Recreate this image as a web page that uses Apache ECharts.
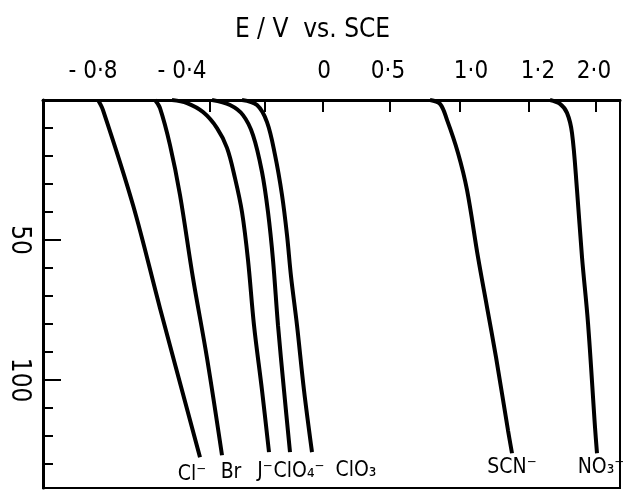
<!DOCTYPE html>
<html>
<head>
<meta charset="utf-8">
<script src="https://cdn.jsdelivr.net/npm/echarts@6/dist/echarts.min.js"></script>
<style>
  html, body { margin: 0; padding: 0; background: #fff; }
  #chart { width: 625px; height: 490px; }
</style>
</head>
<body>
<div id="chart"></div>
<script>
// x: position along the top scale (the printed scale is not linear)
// y: downward axis, 0 at the top edge
const tickPos = [167, 222, 280, 347, 417, 486, 553]
const labelPos = [50, 139, 281, 345, 428, 495, 551]
const tickLabels = ['- 0·8', '- 0·4', '0', '0·5', '1·0', '1·2', '2·0']
const yLabels = [50, 100]

const names = ['Cl⁻', 'Br', 'J⁻', 'ClO₄⁻', 'ClO₃', 'SCN⁻', 'NO₃⁻']

const clX = [55, 60, 90, 117, 157]
const clY = [0, 3.6, 37.5, 74.3, 127.5]
const brX = [112, 117, 127, 137, 150, 164, 179]
const brY = [0, 2.9, 16.1, 33.9, 63.6, 92.1, 126.8]
const jX = [129, 144, 160, 174, 184, 192, 199, 205, 211, 219, 226]
const jY = [0, 1.1, 4.3, 10, 17.1, 27.9, 40, 57.1, 80.4, 103.6, 125.7]
const clo4X = [169, 187, 200, 210, 219, 225, 230, 235, 241, 247]
const clo4Y = [0, 1.8, 5.4, 12.5, 25.7, 40, 57.1, 80.4, 103.6, 125.7]
const clo3X = [199, 214, 224, 232, 239, 244, 248, 254, 261, 269]
const clo3Y = [0, 1.8, 7.9, 19.6, 33.9, 48.2, 62.9, 80.4, 103.6, 125.7]
const scnX = [387, 397, 404, 415, 424, 435, 444, 453, 465, 469]
const scnY = [0, 1.4, 7.1, 18.9, 32.1, 56.1, 73.9, 91.8, 117.9, 126.1]
const no3X = [507, 517, 524, 529, 534, 539, 545, 552, 554]
const no3Y = [0, 1.4, 4.6, 11.8, 32.1, 56.1, 79.6, 116.8, 126.1]

const curvesX = [clX, brX, jX, clo4X, clo3X, scnX, no3X]
const curvesY = [clY, brY, jY, clo4Y, clo3Y, scnY, no3Y]

// label shift under each curve end (style only)
const labelShift = [[-8, 0], [9, 0], [-4, 2], [9, 2], [44, 1], [0, -3], [4, -3]]

const FONT = '"Liberation Sans Narrow", "DejaVu Sans Condensed", sans-serif'

const chart = echarts.init(document.getElementById('chart'), null, { renderer: 'canvas' })

const lineSeries = curvesX.map((xs, i) => ({
  name: names[i],
  type: 'line',
  data: xs.map((x, j) => [x, curvesY[i][j]]),
  symbol: 'none',
  smooth: 0.35,
  lineStyle: { color: '#000', width: 4 },
  xAxisIndex: 0,
  yAxisIndex: 0
}))

// names written under the lower end of each curve
const endSeries = {
  type: 'scatter',
  symbolSize: 1,
  itemStyle: { color: 'rgba(0,0,0,0)' },
  data: curvesX.map((xs, i) => ({
    name: names[i],
    value: [xs[xs.length - 1], curvesY[i][curvesY[i].length - 1]],
    label: { offset: labelShift[i] }
  })),
  label: {
    show: true,
    position: 'bottom',
    distance: 6,
    formatter: p => p.name,
    color: '#000',
    opacity: 1,
    fontSize: 21,
    fontFamily: FONT
  },
  emphasis: { disabled: true },
  xAxisIndex: 0,
  yAxisIndex: 0
}

chart.setOption({
  animation: false,
  backgroundColor: '#fff',
  title: {
    text: 'E / V  vs. SCE',
    left: 'center',
    top: 12,
    textStyle: { fontSize: 26, fontWeight: 'normal', fontFamily: FONT, color: '#000' }
  },
  grid: {
    left: 43,
    right: 5,
    top: 100,
    bottom: 2,
    show: true,
    borderColor: '#000',
    borderWidth: 2
  },
  xAxis: {
    type: 'value',
    position: 'top',
    min: 0,
    max: 577,
    axisLine: { lineStyle: { color: '#000', width: 3 } },
    axisTick: { inside: true, length: 12, customValues: tickPos, lineStyle: { color: '#000', width: 2 } },
    axisLabel: {
      customValues: labelPos,
      formatter: v => tickLabels[labelPos.indexOf(v)],
      margin: 16,
      fontSize: 24,
      fontFamily: FONT,
      color: '#000'
    },
    splitLine: { show: false }
  },
  yAxis: [
    {
      type: 'value',
      inverse: true,
      min: 0,
      max: 138.5,
      interval: 10,
      axisLine: { lineStyle: { color: '#000', width: 3 } },
      axisTick: { inside: true, length: 10, lineStyle: { color: '#000', width: 2 } },
      axisLabel: { show: false },
      splitLine: { show: false }
    },
    {
      type: 'value',
      inverse: true,
      min: 0,
      max: 138.5,
      position: 'left',
      axisLine: { show: false },
      axisTick: { inside: true, length: 18, customValues: yLabels, lineStyle: { color: '#000', width: 2 } },
      axisLabel: {
        customValues: yLabels,
        rotate: -90,
        margin: 11,
        fontSize: 26,
        fontFamily: FONT,
        color: '#000'
      },
      splitLine: { show: false }
    }
  ],
  series: [...lineSeries, endSeries]
})
</script>
</body>
</html>
